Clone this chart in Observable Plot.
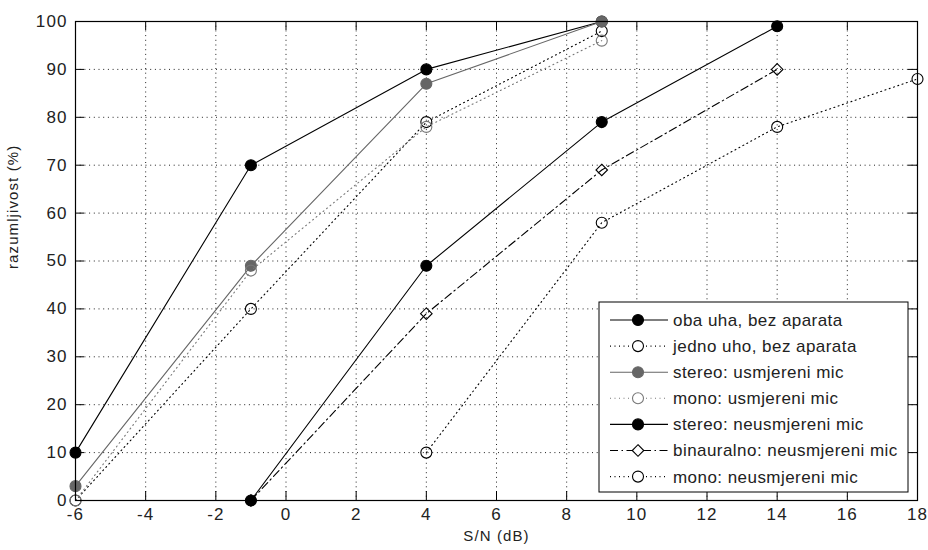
<!DOCTYPE html>
<html>
<head>
<meta charset="utf-8">
<script src="https://cdn.jsdelivr.net/npm/d3@7"></script>
<script src="https://cdn.jsdelivr.net/npm/@observablehq/plot@0.6"></script>
<style>
  html, body { margin: 0; padding: 0; background: #fff; }
  #chart svg { display: block; }
</style>
</head>
<body>
<div id="chart"></div>
<script>
// Tick values for both axes
const xTicks = [-6, -4, -2, 0, 2, 4, 6, 8, 10, 12, 14, 16, 18];
const yTicks = [0, 10, 20, 30, 40, 50, 60, 70, 80, 90, 100];

// Series names (legend order)
const seriesNames = [
  "oba uha, bez aparata",
  "jedno uho, bez aparata",
  "stereo: usmjereni mic",
  "mono: usmjereni mic",
  "stereo: neusmjereni mic",
  "binauralno: neusmjereni mic",
  "mono: neusmjereni mic"
];

// Measured intelligibility (%) against S/N (dB)
const obaUhaX = [-6, -1, 4, 9];
const obaUhaY = [10, 70, 90, 100];
const jednoUhoX = [-6, -1, 4, 9];
const jednoUhoY = [0, 40, 79, 98];
const stereoUsmX = [-6, -1, 4, 9];
const stereoUsmY = [3, 49, 87, 100];
const monoUsmX = [-6, -1, 4, 9];
const monoUsmY = [0, 48, 78, 96];
const stereoNeusX = [-1, 4, 9, 14];
const stereoNeusY = [0, 49, 79, 99];
const binNeusX = [-1, 4, 9, 14];
const binNeusY = [0, 39, 69, 90];
const monoNeusX = [4, 9, 14, 18];
const monoNeusY = [10, 58, 78, 88];

const seriesXs = [obaUhaX, jednoUhoX, stereoUsmX, monoUsmX, stereoNeusX, binNeusX, monoNeusX];
const seriesYs = [obaUhaY, jednoUhoY, stereoUsmY, monoUsmY, stereoNeusY, binNeusY, monoNeusY];

// Line and marker styles per series
const DOT = "1,3.5";
const DASHDOT = "8,3.5,1.5,3.5";
const styles = [
  { color: "#000", dash: null,    symbol: "circle",   filled: true  },
  { color: "#000", dash: DOT,     symbol: "circle",   filled: false },
  { color: "#666", dash: null,    symbol: "circle",   filled: true  },
  { color: "#777", dash: DOT,     symbol: "circle",   filled: false },
  { color: "#000", dash: null,    symbol: "circle",   filled: true  },
  { color: "#000", dash: DASHDOT, symbol: "diamond2", filled: false },
  { color: "#000", dash: DOT,     symbol: "circle",   filled: false }
];

const W = 928, H = 550;
const mL = 75, mR = 11, mT = 21, mB = 50;
const fw = W - mL - mR, fh = H - mT - mB;
const tickLen = 9;
const FONT = "'Liberation Sans', Arial, sans-serif";

const tables = seriesNames.map((name, i) =>
  seriesXs[i].map((x, j) => ({ name, x, y: seriesYs[i][j] }))
);

const dataMarks = [];
tables.forEach((rows, i) => {
  const s = styles[i];
  dataMarks.push(Plot.line(rows, {
    x: "x", y: "y", stroke: s.color, strokeWidth: 1.1,
    strokeDasharray: s.dash
  }));
  dataMarks.push(Plot.dot(rows, {
    x: "x", y: "y", r: s.symbol === "diamond2" ? 5.2 : 5.5, symbol: s.symbol,
    fill: s.filled ? s.color : "none", stroke: s.color, strokeWidth: 1.1
  }));
});

const chart = Plot.plot({
  width: W, height: H,
  marginLeft: mL, marginRight: mR, marginTop: mT, marginBottom: mB,
  style: { fontFamily: FONT, fontSize: "17px", color: "#222", background: "#fff", letterSpacing: "1.1px" },
  x: { domain: [-6, 18], ticks: xTicks, tickSize: 0, tickPadding: 7, tickFormat: d => String(d), label: null },
  y: { domain: [0, 100], ticks: yTicks, tickSize: 0, tickPadding: 8, tickFormat: d => String(d), label: null },
  marks: [
    // dotted grid
    Plot.ruleX(xTicks, { x: d => d, stroke: "#222", strokeDasharray: "1,3.7" }),
    Plot.ruleY(yTicks, { y: d => d, stroke: "#222", strokeDasharray: "1,3.7" }),
    // inward ticks on all four sides
    Plot.tickX(xTicks, { x: d => d, insetTop: fh - tickLen, stroke: "#000" }),
    Plot.tickX(xTicks, { x: d => d, insetBottom: fh - tickLen, stroke: "#000" }),
    Plot.tickY(yTicks, { y: d => d, insetRight: fw - tickLen, stroke: "#000" }),
    Plot.tickY(yTicks, { y: d => d, insetLeft: fw - tickLen, stroke: "#000" }),
    ...dataMarks,
    Plot.frame({ stroke: "#000", strokeWidth: 1.2 }),
    // axis titles
    Plot.text(["S/N (dB)"], { frameAnchor: "bottom", dy: 40, text: d => d, fontSize: 15, fill: "#222" }),
    Plot.text(["razumljivost (%)"], { frameAnchor: "left", dx: -62, dy: 8, rotate: -90, text: d => d, fontSize: 15, fill: "#222" })
  ]
});

document.getElementById("chart").appendChild(chart);

// Legend box in the lower right of the axes
const svg = d3.select(chart);
const lg = svg.append("g")
  .attr("font-family", FONT).attr("font-size", 17).attr("fill", "#222")
  .attr("text-anchor", "start").style("letter-spacing", "0.45px");
const lx = 599, ly = 302, lw = 309, lh = 190;
lg.append("rect").attr("x", lx).attr("y", ly).attr("width", lw).attr("height", lh)
  .attr("fill", "#fff").attr("stroke", "#000").attr("stroke-width", 1);
const rowY0 = 320, rowStep = 26.1;
seriesNames.forEach((name, i) => {
  const s = styles[i];
  const cy = rowY0 + i * rowStep;
  lg.append("line").attr("x1", 610).attr("x2", 668).attr("y1", cy).attr("y2", cy)
    .attr("stroke", s.color).attr("stroke-width", 1.1)
    .attr("stroke-dasharray", s.dash);
  const sym = s.symbol === "diamond2" ? d3.symbolDiamond2 : d3.symbolCircle;
  const r = s.symbol === "diamond2" ? 5.2 : 5.5;
  lg.append("path").attr("transform", `translate(638,${cy})`)
    .attr("d", d3.symbol(sym, Math.PI * r * r)())
    .attr("fill", s.filled ? s.color : "#fff").attr("stroke", s.color).attr("stroke-width", 1.1);
  lg.append("text").attr("x", 673).attr("y", cy).attr("dy", "0.35em").text(name);
});
</script>
</body>
</html>
